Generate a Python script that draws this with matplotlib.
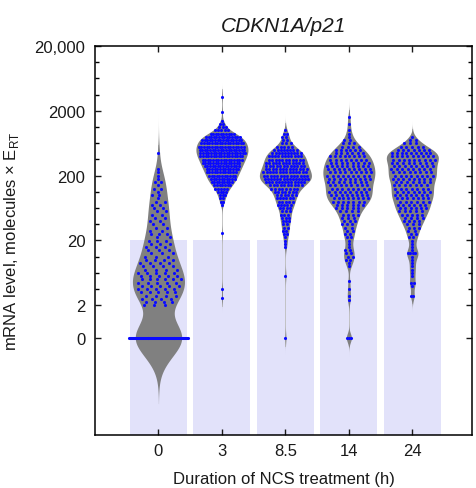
import numpy as np
import matplotlib
matplotlib.use('Agg')
import matplotlib.pyplot as plt
from matplotlib.ticker import FixedLocator

plt.rcParams['font.family'] = ['Liberation Sans', 'DejaVu Sans']

# ---------------- data ----------------
categories = ['0', '3', '8.5', '14', '24']
title = 'CDKN1A/p21'
xlabel = 'Duration of NCS treatment (h)'
ylabel = 'mRNA level, molecules × E$_\\mathregular{RT}$'
ytick_values = [0, 2, 20, 200, 2000, 20000]
ytick_labels = ['0', '2', '20', '200', '2000', '20,000']
shade_top = 20          # shaded band goes from bottom up to 20 molecules

bin_step = 0.05         # histogram bin width in log10 units
# cells per log10 bin, starting at start_*
start_0 = 0.30
counts_0 = [3, 4, 4, 4, 5, 5, 5, 5, 6, 5, 5, 4, 4, 4, 4, 3, 3, 3, 3, 3,
            3, 2, 3, 2, 2, 2, 2, 2, 2, 2, 2, 2, 2, 1, 2, 1, 2, 1, 2, 1,
            1, 1, 1, 0, 0, 0, 0, 1]
zeros_0 = 62
extra_0 = []

start_3 = 1.85
counts_3 = [1, 2, 2, 3, 4, 5, 7, 9, 10, 11, 12, 13, 14, 15, 16, 17, 18, 18,
            18, 17, 16, 14, 10, 5, 3, 2, 1]
zeros_3 = 0
extra_3 = [3.52, 3.29, 1.41, 0.56, 0.41]

start_8 = 1.20
counts_8 = [1, 1, 1, 1, 2, 2, 2, 2, 3, 3, 3, 3, 4, 5, 5, 6, 6, 7, 8, 10,
            13, 15, 14, 14, 13, 12, 12, 11, 11, 10, 8, 5, 3, 2, 2, 2, 1]
zeros_8 = 1
extra_8 = [0.76]

start_14 = 0.90
counts_14 = [1, 1, 2, 2, 2, 2, 1, 1, 1, 2, 2, 2, 2, 3, 3, 3, 4, 4, 5, 6,
             7, 8, 8, 8, 8, 8, 8, 9, 9, 9, 9, 9, 8, 8, 8, 6, 6, 4, 3, 2,
             1, 1, 1, 0, 1, 0, 1]
zeros_14 = 3
extra_14 = [0.67, 0.55, 0.44, 0.39]

start_24 = 0.45
counts_24 = [2, 0, 0, 1, 2, 0, 1, 1, 1, 1, 1, 1, 1, 4, 1, 1, 1, 1, 2, 2,
             2, 3, 3, 4, 4, 5, 5, 6, 6, 6, 7, 7, 7, 7, 7, 7, 8, 8, 8, 8,
             8, 8, 9, 9, 9, 7, 5, 3, 2, 1]
zeros_24 = 0
extra_24 = []

groups = [
    (start_0, counts_0, zeros_0, extra_0),
    (start_3, counts_3, zeros_3, extra_3),
    (start_8, counts_8, zeros_8, extra_8),
    (start_14, counts_14, zeros_14, extra_14),
    (start_24, counts_24, zeros_24, extra_24),
]

# ---------------- style ----------------
ZERO_POS = -0.2          # axis position where "0" is drawn (log10 axis)
BW = [0.17, 0.06, 0.07, 0.08, 0.07]
BW_ZERO = [0.29, 0.07, 0.07, 0.07, 0.07]
HALF_WIDTH = 0.41
SHADE_HALF = 0.45
VIOLIN_COLOR = '#808080'
DOT_COLOR = '#0a0aff'
SHADE_COLOR = '#e2e2fa'


def to_axis(v):
    v = np.asarray(v, dtype=float)
    out = np.full(v.shape, ZERO_POS)
    pos = v > 0
    out[pos] = np.log10(v[pos])
    return out


def kernel_sum(y, grid, bw):
    if len(y) == 0:
        return np.zeros_like(grid)
    d = (grid[:, None] - np.asarray(y)[None, :]) / bw
    return np.exp(-0.5 * d * d).sum(axis=1) / bw


fig = plt.figure(figsize=(4.77, 4.89), dpi=100)
ax = fig.add_axes([95 / 477, 1 - 436 / 489, 377 / 477, 389 / 489])

ylo, yhi = -1.7, np.log10(20000)

for i, (start, counts, nzero, extra) in enumerate(groups):
    xc = i + 1
    # shaded band
    ax.add_patch(plt.Rectangle((xc - SHADE_HALF, ylo), 2 * SHADE_HALF,
                               np.log10(shade_top) - ylo, color=SHADE_COLOR,
                               lw=0, zorder=1))
    counts = np.asarray(counts)
    levels = start + bin_step * np.arange(len(counts))
    vals_log = np.repeat(levels, counts)
    vals_log = np.concatenate([vals_log, np.asarray(extra, float)])
    vals = 10 ** vals_log
    zero_vals = np.zeros(nzero)
    ypos_nz = to_axis(vals)
    ypos_z = to_axis(zero_vals)
    allpos = np.concatenate([ypos_nz, ypos_z])
    lo, hi = allpos.min(), allpos.max()
    grid = np.linspace(lo - 3.5 * max(BW[i], BW_ZERO[i] if nzero else 0),
                       hi + 3.5 * BW[i], 800)
    dens = kernel_sum(ypos_nz, grid, BW[i]) + kernel_sum(ypos_z, grid, BW_ZERO[i])
    hw = dens / dens.max() * HALF_WIDTH
    ax.plot([xc, xc], [lo - 0.12, hi + 0.12], color='#bdbdbd', lw=0.6, zorder=1.5)
    ax.fill_betweenx(grid, xc - hw, xc + hw, color=VIOLIN_COLOR, lw=0, zorder=2)

    # points laid out in rows inside the violin
    row_levels = list(levels) + list(np.asarray(extra, float))
    row_counts = list(counts) + [1] * len(extra)
    if nzero:
        row_levels.append(ZERO_POS)
        row_counts.append(nzero)
    xs_all, ys_all = [], []
    for j, (lev, n) in enumerate(zip(row_levels, row_counts)):
        if n == 0:
            continue
        h = np.interp(lev, grid, hw)
        if n == 1:
            xs = np.array([xc])
        else:
            half = max(0.9 * h, min(0.022 * (n - 1), 0.47))
            spacing = 2 * half / n
            shift = (((j * 0.6180339) % 1.0) - 0.5) * spacing * 0.8
            xs = xc - half + spacing * (np.arange(n) + 0.5) + shift
        xs_all.extend(xs)
        ys_all.extend([lev] * n)
    ax.scatter(xs_all, ys_all, s=5, color=DOT_COLOR, lw=0, zorder=4)

ax.set_xlim(0, 5.94)
ax.set_ylim(ylo, yhi)
ax.set_xticks(np.arange(1, len(categories) + 1))
ax.set_xticklabels(categories)
ax.set_yticks(to_axis(ytick_values))
ax.set_yticklabels(ytick_labels)
minor = [np.log10(2) + 0.25 * k for k in range(17) if k % 4 != 0]
ax.yaxis.set_minor_locator(FixedLocator(minor))
ax.tick_params(which='both', direction='in', top=True, right=True, width=1.0)
ax.tick_params(which='major', length=4, labelsize=12, colors='#1a1a1a')
ax.tick_params(axis='y', which='major', pad=7)
ax.tick_params(axis='x', which='major', pad=6)
ax.tick_params(which='minor', length=3)
for s in ax.spines.values():
    s.set_linewidth(1.1)
ax.set_xlabel(xlabel, fontsize=12, labelpad=9, color='#1a1a1a')
ax.set_ylabel(ylabel, fontsize=12, color='#1a1a1a')
ax.yaxis.set_label_coords(-0.196, 0.5)
ax.set_title(title, fontsize=15, style='italic', pad=11, color='#1a1a1a')

fig.savefig('out.png', dpi=100)
